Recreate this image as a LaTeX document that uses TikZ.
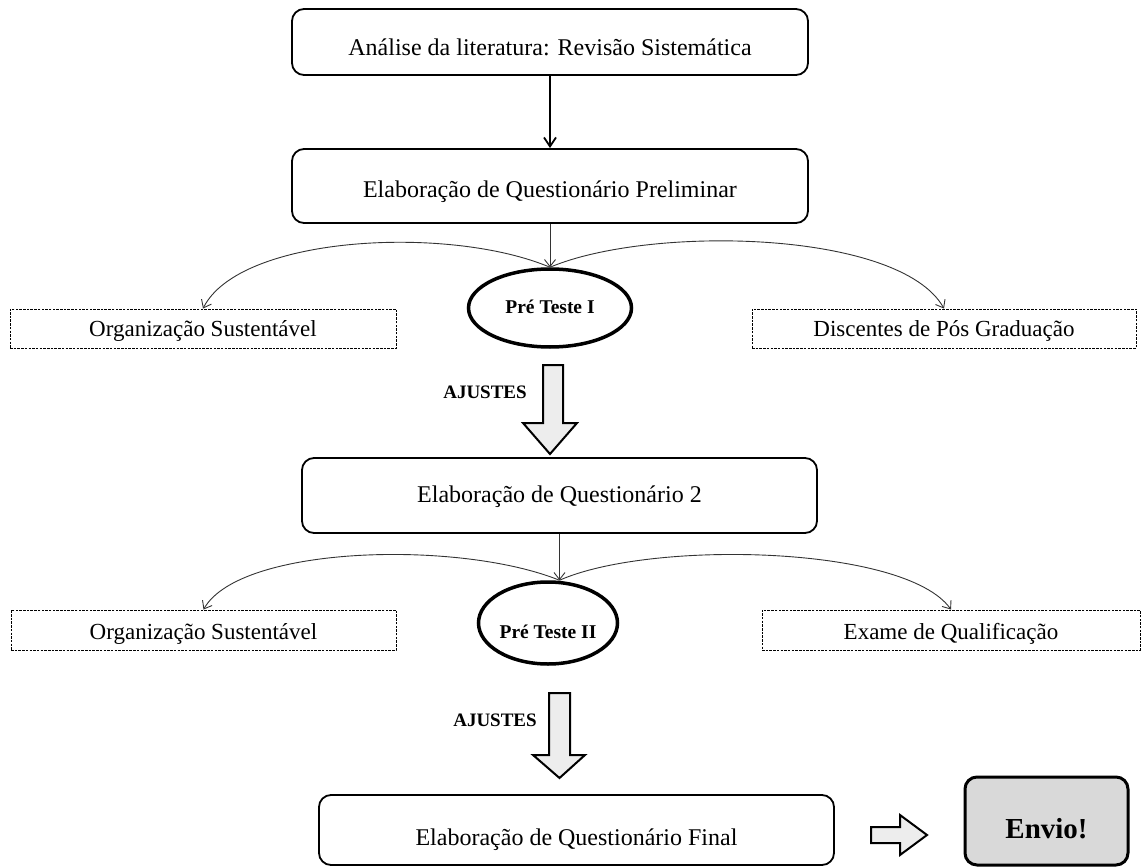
\documentclass[tikz,border=0pt]{standalone}
\usepackage{fontspec}
\setmainfont{Liberation Serif}
\usetikzlibrary{arrows.meta,shapes.geometric}
\begin{document}
\begin{tikzpicture}[x=1pt,y=-1pt,
  box/.style={draw, line width=1.8pt, rounded corners=12pt, inner sep=0pt, font=\fontsize{24}{28}\selectfont, text depth=0pt},
  dbox/.style={draw, line width=0.9pt, dash pattern=on 2.5pt off 1.2pt, inner sep=0pt, font=\fontsize{23}{27}\selectfont, text depth=0pt, minimum height=39pt},
  oval/.style={ellipse, draw, line width=3.5pt, inner sep=0pt, font=\bfseries\fontsize{19.5}{23}\selectfont, text depth=0pt},
  thinarrow/.style={line width=0.9pt, draw=black!80, -{Straight Barb[length=7pt,width=11pt]}},
  block/.style={draw, line width=2pt, fill=black!7, line join=miter},
  lab/.style={font=\bfseries\fontsize{19}{23}\selectfont, inner sep=0pt}
]
\useasboundingbox (0,0) rectangle (1144,867);

% top part
\node[box, minimum width=516pt, minimum height=66pt, text height=28pt] (b1) at (550,42) {Análise da literatura: Revisão Sistemática};
\node[box, minimum width=516pt, minimum height=74pt, text height=22pt] (b2) at (550,186) {Elaboração de Questionário Preliminar};
\draw[line width=1.8pt, -{Straight Barb[length=9pt,width=12pt]}] (b1) -- (b2);

\node[oval, minimum width=163pt, minimum height=78pt, text height=10pt] (e1) at (550,308) {Pré Teste I};
\node[dbox, minimum width=386pt, text height=15pt] (d1) at (203,328.5) {Organização Sustentável};
\node[dbox, minimum width=384pt, text height=15pt] (d2) at (944,328.5) {Discentes de Pós Graduação};

\draw[thinarrow] (b2.south) -- (e1.north);
\draw[thinarrow] (e1.north) .. controls (450,225) and (240,235) .. (d1.north);
\draw[thinarrow] (e1.north) .. controls (650,225) and (900,230) .. (d2.north);

% block arrow 1
\draw[block] (543,365) -- (563,365) -- (563,423) -- (577,423) -- (550,454) -- (523,423) -- (543,423) -- cycle;
\node[lab] (a1) at (485,392) {AJUSTES};

% middle part
\node[box, minimum width=515pt, minimum height=75pt, text height=13pt] (b3) at (559.5,495.5) {Elaboração de Questionário 2};
\node[oval, minimum width=139pt, minimum height=82pt, text height=30pt] (e2) at (548,623) {Pré Teste II};
\node[dbox, minimum width=385pt, minimum height=40pt, text height=18pt] (d3) at (203.5,630) {Organização Sustentável};
\node[dbox, minimum width=378pt, minimum height=40pt, text height=18pt] (d4) at (951,630) {Exame de Qualificação};

\coordinate (t2) at (b3.south |- e2.north);
\draw[thinarrow] (b3.south) -- (t2);
\draw[thinarrow] (t2) .. controls (460,540) and (240,545) .. (d3.north);
\draw[thinarrow] (t2) .. controls (650,540) and (905,545) .. (d4.north);

% block arrow 2
\draw[block] (549,693) -- (570,693) -- (570,755) -- (585,755) -- (559.5,778) -- (533,755) -- (549,755) -- cycle;
\node[lab] (a2) at (495,720) {AJUSTES};

% bottom part
\node[box, minimum width=515pt, minimum height=70pt, text height=30pt] (b4) at (576.5,830) {Elaboração de Questionário Final};
\node[box, fill=black!15, line width=3pt, minimum width=163pt, minimum height=88pt, text height=34pt, font=\bfseries\fontsize{29}{34}\selectfont] (env) at (1046.5,821) {Envio!};

% block arrow 3
\draw[block] (871,827) -- (900,827) -- (900,815) -- (927,835) -- (900,855) -- (900,843) -- (871,843) -- cycle;
\end{tikzpicture}
\end{document}
